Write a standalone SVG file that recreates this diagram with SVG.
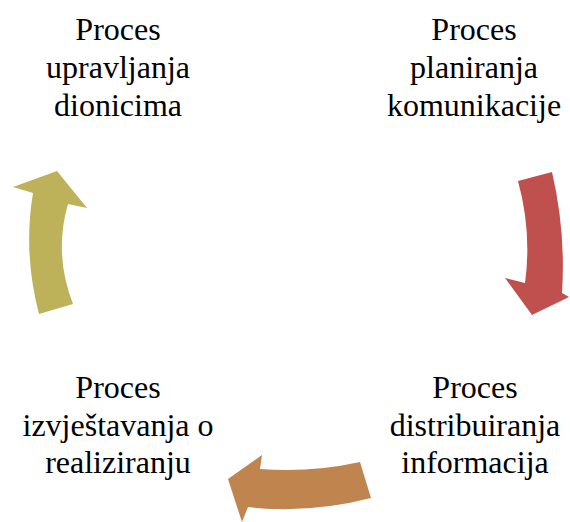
<svg xmlns="http://www.w3.org/2000/svg" width="570" height="522" viewBox="0 0 570 522">
<style>
text{font-family:'Liberation Serif',serif;font-size:32px;fill:#000;text-anchor:middle}
</style>
<rect width="570" height="522" fill="#fff"/>
<g id="connectors">
<path id="arrow-red" d="M518 181 L552 172 Q566 232 562 293 L569 297 L532 315 L505 278 L525 283 Q532 232 518 181 Z" fill="#C0504D"/>
<path id="arrow-orange" d="M360 462 L371 498 Q309.5 514 248 507 L242 522 L228 479 L262 455 L260 469 Q310 473 360 462 Z" fill="#C0844F"/>
<path id="arrow-olive" d="M39 314 L73 304 Q53.5 254 68 204 L87 208 L57 171 L13 187 L33 193 Q23 253 39 314 Z" fill="#BDB159"/>
</g>
<g id="node-planiranje" font-family="Liberation Serif">
<text x="474" y="40">Proces</text>
<text x="474" y="78">planiranja</text>
<text x="474" y="115.5">komunikacije</text>
</g>
<g id="node-distribuiranje" font-family="Liberation Serif">
<text x="475" y="398">Proces</text>
<text x="475" y="435.5">distribuiranja</text>
<text x="475" y="473">informacija</text>
</g>
<g id="node-izvjestavanje" font-family="Liberation Serif">
<text x="118" y="398">Proces</text>
<text x="118" y="435.5">izvještavanja o</text>
<text x="118" y="473">realiziranju</text>
</g>
<g id="node-upravljanje" font-family="Liberation Serif">
<text x="118" y="40">Proces</text>
<text x="118" y="78">upravljanja</text>
<text x="118" y="115.5">dionicima</text>
</g>
</svg>
